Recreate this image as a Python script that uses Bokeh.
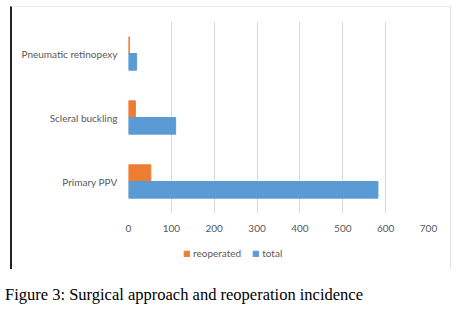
from bokeh.plotting import figure
from bokeh.layouts import column
from bokeh.models import (FactorRange, Range1d, Legend, LegendItem, Div,
                          FixedTicker, ColumnDataSource)
from bokeh.transform import dodge
from bokeh.embed import file_html
from bokeh.resources import INLINE

categories = ["Pneumatic retinopexy", "Scleral buckling", "Primary PPV"]
reoperated = [2, 16, 52]
total = [19, 110, 582]
x_ticks = [0, 100, 200, 300, 400, 500, 600, 700]
series_names = ["reoperated", "total"]
caption = "Figure 3: Surgical approach and reoperation incidence"

ORANGE = "#ED7D31"
BLUE = "#5B9BD5"
GREY_TXT = "#595959"

src = ColumnDataSource(dict(cat=categories, reop=reoperated, tot=total))

# ---- main chart -------------------------------------------------------
fig = figure(width=438, height=233,
             y_range=FactorRange(*categories[::-1], range_padding=0),
             x_range=Range1d(0, 700),
             output_backend="svg", toolbar_location=None,
             min_border_left=116, min_border_right=22,
             min_border_top=14, min_border_bottom=27)

r1 = fig.hbar(y=dodge("cat", 0.13, range=fig.y_range), left=0, right="reop",
              height=0.26, color=ORANGE, source=src)
r2 = fig.hbar(y=dodge("cat", -0.13, range=fig.y_range), left=0, right="tot",
              height=0.26, color=BLUE, source=src)

fig.outline_line_color = None
fig.ygrid.grid_line_color = None
fig.xgrid.grid_line_color = "#D9D9D9"
fig.xaxis.ticker = FixedTicker(ticks=x_ticks)

for ax in (fig.xaxis, fig.yaxis):
    ax.axis_line_color = None
    ax.major_tick_line_color = None
    ax.minor_tick_line_color = None
    ax.major_tick_out = 0
    ax.major_tick_in = 0
    ax.major_label_text_color = GREY_TXT
    ax.major_label_text_font = "Lato"
fig.xaxis.major_label_text_font_size = "10px"
fig.xaxis.major_label_standoff = 11
fig.yaxis.major_label_text_font_size = "10px"
fig.yaxis.major_label_standoff = 11

# ---- legend strip (holds only the legend; its renderers are hidden) ---
leg = figure(width=438, height=29,
             y_range=FactorRange(*categories[::-1]), x_range=Range1d(-20, -10),
             output_backend="svg", toolbar_location=None,
             x_axis_type=None, y_axis_type=None, min_border=0)
leg.grid.visible = False
leg.outline_line_color = None
l1 = leg.hbar(y="cat", left=0, right="reop", height=0.26, color=ORANGE, source=src)
l2 = leg.hbar(y="cat", left=0, right="tot", height=0.26, color=BLUE, source=src)
l1.visible = False
l2.visible = False

legend = Legend(items=[LegendItem(label=series_names[0], renderers=[l1]),
                       LegendItem(label=series_names[1], renderers=[l2])],
                orientation="horizontal", location=(55, 10), click_policy="none",
                glyph_width=7, glyph_height=7, label_standoff=3, spacing=11,
                label_text_font="Lato", label_text_font_size="10px",
                label_text_color=GREY_TXT, border_line_color=None,
                background_fill_alpha=0, padding=0, margin=0)
leg.add_layout(legend, "center")

box = column(fig, leg, spacing=0, margin=(6, 0, 0, 10),
             styles={"border-left": "2px solid #222222",
                     "border-top": "1px solid #EBEBEB",
                     "border-right": "1px solid #E2E2E2"})

cap = Div(text=caption, width=440, height=20, margin=(17, 0, 0, 5),
          styles={"font-family": "'Liberation Serif', serif", "font-size": "16.5px",
                  "color": "#000000", "line-height": "18px", "white-space": "nowrap"})

p = column(box, cap, spacing=0)

open("out.html", "w").write(file_html(p, INLINE))
